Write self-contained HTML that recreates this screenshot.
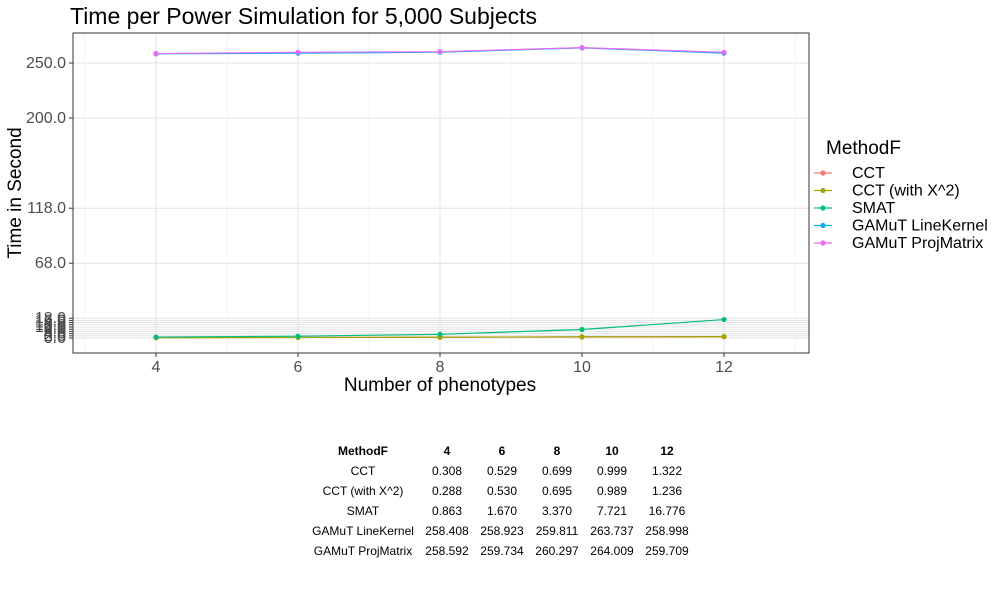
<!DOCTYPE html>
<html><head><meta charset="utf-8"><style>
body{margin:0;background:#fff;font-family:"Liberation Sans",sans-serif}
</style></head><body>
<svg width="1000" height="600" xmlns="http://www.w3.org/2000/svg" font-family="Liberation Sans, sans-serif">
<text x="70" y="24" font-size="23" fill="#000">Time per Power Simulation for 5,000 Subjects</text>
<g id="grid"></g>
<g id="marks"></g>
<rect x="73" y="33" width="736" height="320" fill="none" stroke="#333" stroke-width="1"/>
<g id="axes"></g>
<text x="440" y="391" font-size="19" text-anchor="middle">Number of phenotypes</text>
<text transform="translate(21,193) rotate(-90)" font-size="19" text-anchor="middle">Time in Second</text>
<text x="826" y="154" font-size="19">MethodF</text>
<g id="legend"></g>
<g id="table" font-size="12" text-anchor="middle"></g>
</svg>
<script>
const xs=[4,6,8,10,12];
const methods=["CCT","CCT (with X^2)","SMAT","GAMuT LineKernel","GAMuT ProjMatrix"];
const colors=["#F8766D","#A3A500","#00BF7D","#00B0F6","#E76BF3"];
const cct=[0.308,0.529,0.699,0.999,1.322];
const cctx2=[0.288,0.530,0.695,0.989,1.236];
const smat=[0.863,1.670,3.370,7.721,16.776];
const gline=[258.408,258.923,259.811,263.737,258.998];
const gproj=[258.592,259.734,260.297,264.009,259.709];
const series=[cct,cctx2,smat,gline,gproj];
const yTicks=[0,2,4,6,8,10,12,14,16,18,68,118,200,250];
const yLabels=["0.0","2.0","4.0","6.0","8.0","10.0","12.0","14.0","16.0","18.0","68.0","118.0","200.0","250.0"];
const xTicks=[4,6,8,10,12];
const NS="http://www.w3.org/2000/svg";
const X=v=>156+(v-4)*71;
const Y=v=>338-v*1.1;
function mk(p,t,a){const e=document.createElementNS(NS,t);for(const k in a)e.setAttribute(k,a[k]);p.appendChild(e);return e;}
const grid=document.getElementById('grid'),axes=document.getElementById('axes'),marks=document.getElementById('marks');
[3,5,7,9,11,13].forEach(v=>{const l=mk(grid,'line',{x1:X(v),x2:X(v),y1:33,y2:353,stroke:'#f0f0f0','stroke-width':0.6});

});
xTicks.forEach(v=>{const l=mk(grid,'line',{x1:X(v),x2:X(v),y1:33,y2:353,stroke:'#e3e3e3','stroke-width':1});


const tk=mk(axes,'line',{x1:X(v),x2:X(v),y1:353,y2:357,stroke:'#333'});


const t=mk(axes,'text',{x:X(v),y:372,'font-size':16,'text-anchor':'middle',fill:'#4d4d4d'});t.textContent=v;

});
yTicks.forEach((v,i)=>{const l=mk(grid,'line',{x1:73,x2:809,y1:Y(v),y2:Y(v),stroke:'#e3e3e3','stroke-width':1});


const tk=mk(axes,'line',{x1:69,x2:73,y1:Y(v),y2:Y(v),stroke:'#333'});


const t=mk(axes,'text',{x:66,y:Y(v)+5,'font-size':16,'text-anchor':'end',fill:'#4d4d4d'});t.textContent=yLabels[i];

});
series.forEach((s,i)=>{const p=mk(marks,'polyline',{points:s.map((v,j)=>X(xs[j])+','+Y(v)).join(' '),fill:'none',stroke:colors[i],'stroke-width':1.2});


s.forEach((v,j)=>{const c=mk(marks,'circle',{cx:X(xs[j]),cy:Y(v),r:2.6,fill:colors[i]});

});});
const lg=document.getElementById('legend');
methods.forEach((m,i)=>{const y=173+i*17.5;
const l=mk(lg,'line',{x1:814,x2:832,y1:y,y2:y,stroke:colors[i],'stroke-width':1.2});


mk(lg,'circle',{cx:823,cy:y,r:2.6,fill:colors[i]});
const t=mk(lg,'text',{x:852,y:y+5,'font-size':16});t.textContent=m;

});
const tb=document.getElementById('table');
const colX=[363,447,502,557,612,667];
const hdr=["MethodF","4","6","8","10","12"];
hdr.forEach((h,j)=>{const t=mk(tb,'text',{x:colX[j],y:455,'font-weight':'bold'});t.textContent=h;

});
methods.forEach((m,i)=>{const y=475+i*20;
const t=mk(tb,'text',{x:colX[0],y:y});t.textContent=m;


series[i].forEach((v,j)=>{const c=mk(tb,'text',{x:colX[j+1],y:y});c.textContent=v.toFixed(3);

});});
</script>
</body></html>
